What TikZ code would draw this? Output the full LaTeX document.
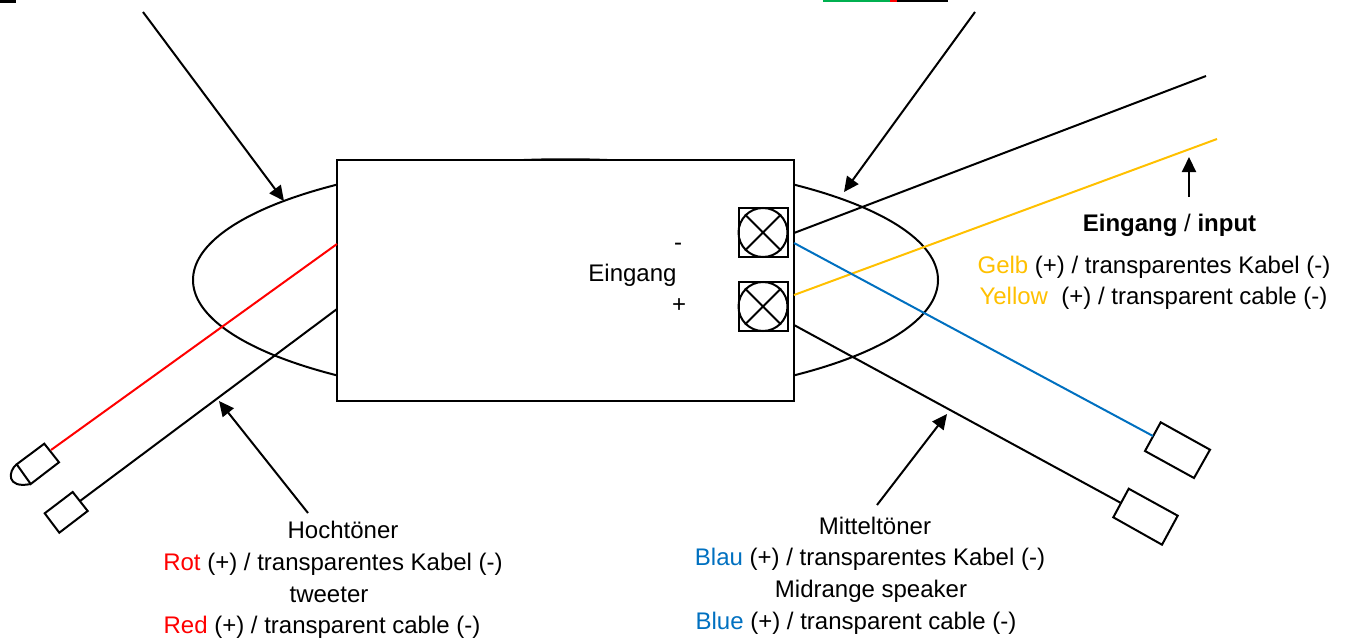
\documentclass[tikz,border=0pt]{standalone}
\usepackage{fontspec}
\setmainfont{Liberation Sans}
\usetikzlibrary{arrows.meta,shapes.geometric}
\definecolor{cred}{HTML}{FF0000}
\definecolor{cblue}{HTML}{0070C0}
\definecolor{cyellow}{HTML}{FFC000}
\definecolor{cgreen}{HTML}{00B050}
\tikzset{
  ln/.style={line width=2pt,black,line join=miter},
  arr/.style={ln,-{Triangle[length=15pt,width=14pt]}},
  lbl/.style={anchor=base,inner sep=0pt,font=\fontsize{24}{28}\selectfont}
}
\begin{document}
\begin{tikzpicture}[x=1pt,y=-1pt]
\useasboundingbox (0,0) rectangle (1346,640);
% top remnants
\fill[black] (0,0) rectangle (16,3);
\fill[cgreen] (823,0) rectangle (890,2);
\fill[cred] (890,0) rectangle (897,2);
\fill[black] (897,0) rectangle (948,2);
% ellipse behind the box
\node[ln,draw,ellipse,minimum width=745pt,minimum height=241.5pt,inner sep=0pt] (oval) at (565.5,280) {};
% main box
\node[ln,draw,fill=white,minimum width=457.5pt,minimum height=241pt,inner sep=0pt] (box) at (565.5,280) {};
% terminals
\foreach \n/\y in {tone/232.5,ttwo/306.5}{
  \node[ln,draw,minimum width=49pt,minimum height=49pt,inner sep=0pt] (\n) at (763,\y) {};
  \node[ln,draw,circle,minimum size=49pt,inner sep=0pt] (\n c) at (763,\y) {};
  \draw[ln] (\n c.45) -- (\n c.225) (\n c.135) -- (\n c.315);
}
% end pieces
\draw[ln] (1160.7,422.3) coordinate (ba) -- (1210,449.7) -- (1194,478) -- (1145,451) coordinate (bb) -- cycle;
\draw[ln] (1128.7,488.7) coordinate (ma) -- (1177.7,515.7) -- (1162,544.7) -- (1113.3,517.3) coordinate (mb) -- cycle;
\draw[ln] (44.3,443.7) coordinate (ra) -- (59,462.3) -- (30.7,484) -- (16.7,464.3) -- cycle;
\draw[ln] (16.7,464.3) .. controls (8,471) and (6,489) .. (30.7,484);
\draw[ln] (72.7,492) -- (87.7,511) -- (59.3,532.7) -- (44.7,513.3) -- cycle;
% wires
\coordinate (w1a) at (794,233); \coordinate (w1b) at (1206,76);
\coordinate (w2a) at (794,295); \coordinate (w2b) at (1217,139);
\coordinate (w3a) at (794,243); \coordinate (w3b) at (1153,436);
\coordinate (w4a) at (794,325); \coordinate (w4b) at (1121,503);
\coordinate (w5a) at (337,244); \coordinate (w5b) at (51,450);
\coordinate (w6a) at (337,309); \coordinate (w6b) at (80,501);
\draw[ln] (w1a) -- (w1b);
\draw[ln,cyellow] (w2a) -- (w2b);
\draw[ln,cblue] (w3a) -- (w3b);
\draw[ln] (w4a) -- (w4b);
\draw[ln,cred] (w5a) -- (w5b);
\draw[ln] (w6a) -- (w6b);
% arrows
\coordinate (a1) at (143,12); \coordinate (a1e) at (284,201);
\coordinate (a2) at (975,12); \coordinate (a2e) at (844,192);
\coordinate (a3) at (308,513); \coordinate (a3e) at (219,401);
\coordinate (a4) at (877,505); \coordinate (a4e) at (947,414);
\coordinate (a5) at (1189,197); \coordinate (a5e) at (1189,157);
\draw[arr] (a1) -- (a1e);
\draw[arr] (a2) -- (a2e);
\draw[arr] (a3) -- (a3e);
\draw[arr] (a4) -- (a4e);
\draw[arr] (a5) -- (a5e);
% labels
\node[lbl] (eing) at (632.5,281) {Eingang};
\node[lbl] (minus) at (678,250) {-};
\node[lbl] (plus) at (679,312) {+};
\node[lbl] (inp) at (1169.5,231) {\textbf{Eingang} / \textbf{input}};
\node[lbl] (gelb) at (1154,273) {\textcolor{cyellow}{Gelb} (+) / transparentes Kabel (-)};
\node[lbl] (yell) at (1153.5,304) {\textcolor{cyellow}{Yellow}\ \ (+) / transparent cable (-)};
\node[lbl] (h1) at (343,538) {Hochtöner};
\node[lbl] (h2) at (333,570) {\textcolor{cred}{Rot} (+) / transparentes Kabel (-)};
\node[lbl] (h3) at (329,602) {tweeter};
\node[lbl] (h4) at (322,633) {\textcolor{cred}{Red} (+) / transparent cable (-)};
\node[lbl] (m1) at (875,534) {Mitteltöner};
\node[lbl] (m2) at (870,565) {\textcolor{cblue}{Blau} (+) / transparentes Kabel (-)};
\node[lbl] (m3) at (871,597) {Midrange speaker};
\node[lbl] (m4) at (856,629) {\textcolor{cblue}{Blue} (+) / transparent cable (-)};
\end{tikzpicture}
\end{document}
